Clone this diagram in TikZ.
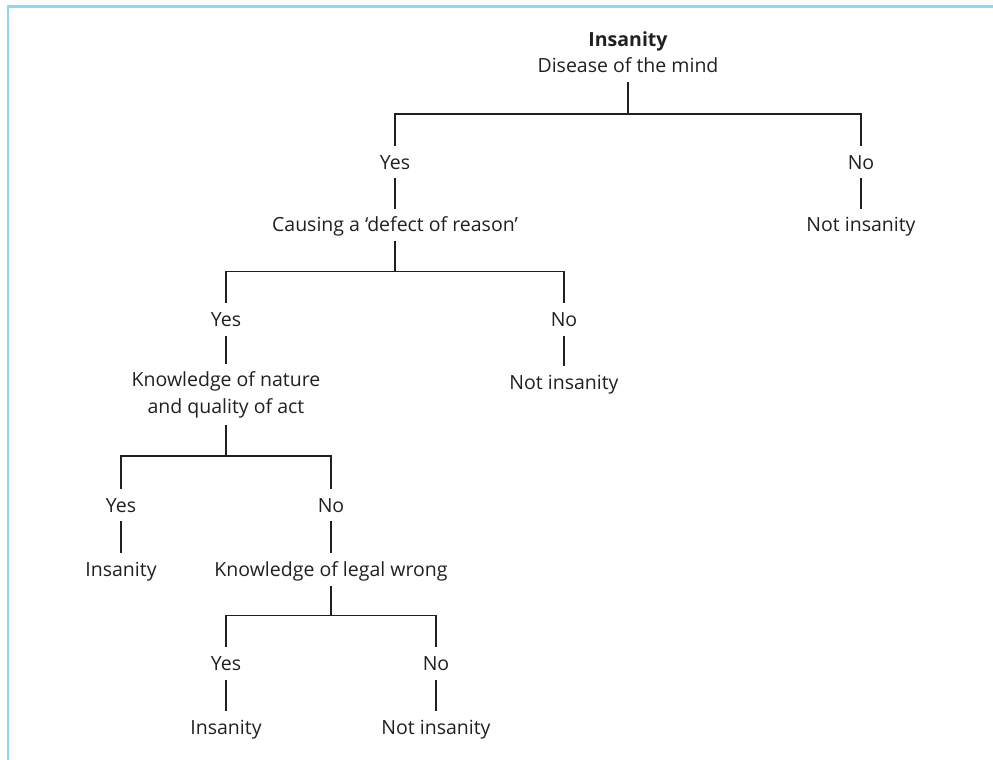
\documentclass[tikz,border=0pt]{standalone}
\usepackage{fontspec}
\setmainfont{Open Sans}
\definecolor{frameblue}{HTML}{8ED8F6}
\definecolor{ink}{HTML}{231F20}
\begin{document}
\begin{tikzpicture}[x=1pt,y=-1pt,
  lbl/.style={font=\fontsize{19.5}{27}\selectfont, text=ink, inner xsep=0pt, inner ysep=9pt,
    text height=14pt, text depth=0pt, anchor=base},
  multi/.style={font=\fontsize{19.5}{26.5}\selectfont, text=ink, inner xsep=0pt, inner ysep=7pt, align=center},
  conn/.style={draw=ink, line width=1.2pt}]
\useasboundingbox (0,0) rectangle (993,760);
\draw[frameblue, line width=2.6pt] (8,760) -- (8,6.7) -- (993,6.7);
% root
\node[multi, anchor=south, inner ysep=9pt] (root) at (628,82) {\textbf{Insanity}\\Disease of the mind};
\coordinate (b1) at (628,114);
\node[lbl] (y1) at (395,169) {Yes};
\node[lbl] (n1) at (861,169) {No};
\node[lbl] (t1) at (395,231.7) {Causing a ‘defect of reason’};
\node[lbl] (t2) at (861,231.7) {Not insanity};
\coordinate (b2) at (395,271.5);
\node[lbl] (y2) at (226,326.5) {Yes};
\node[lbl] (n2) at (564,326.5) {No};
\node[multi, anchor=south] (t3) at (226,425) {Knowledge of nature\\and quality of act};
\node[lbl] (t4) at (564,389.5) {Not insanity};
\coordinate (b3) at (226,456);
\node[lbl] (y3) at (121,512) {Yes};
\node[lbl] (n3) at (331,512) {No};
\node[lbl] (t5) at (121,576.5) {Insanity};
\node[lbl] (t6) at (331,576.5) {Knowledge of legal wrong};
\coordinate (b4) at (331,615.5);
\node[lbl] (y4) at (226,670.5) {Yes};
\node[lbl] (n4) at (436,670.5) {No};
\node[lbl] (t7) at (226,734) {Insanity};
\node[lbl] (t8) at (436,734) {Not insanity};
% connectors
\draw[conn] (root.south) -- (b1);
\draw[conn] (b1) -| (y1.north);
\draw[conn] (b1) -| (n1.north);
\draw[conn] (y1.south) -- (t1.north);
\draw[conn] (n1.south) -- (t2.north);
\draw[conn] (t1.south) -- (b2);
\draw[conn] (b2) -| (y2.north);
\draw[conn] (b2) -| (n2.north);
\draw[conn] (y2.south) -- (t3.north);
\draw[conn] (n2.south) -- (t4.north);
\draw[conn] (t3.south) -- (b3);
\draw[conn] (b3) -| (y3.north);
\draw[conn] (b3) -| (n3.north);
\draw[conn] (y3.south) -- (t5.north);
\draw[conn] (n3.south) -- (t6.north);
\draw[conn] (t6.south) -- (b4);
\draw[conn] (b4) -| (y4.north);
\draw[conn] (b4) -| (n4.north);
\draw[conn] (y4.south) -- (t7.north);
\draw[conn] (n4.south) -- (t8.north);
\end{tikzpicture}
\end{document}
